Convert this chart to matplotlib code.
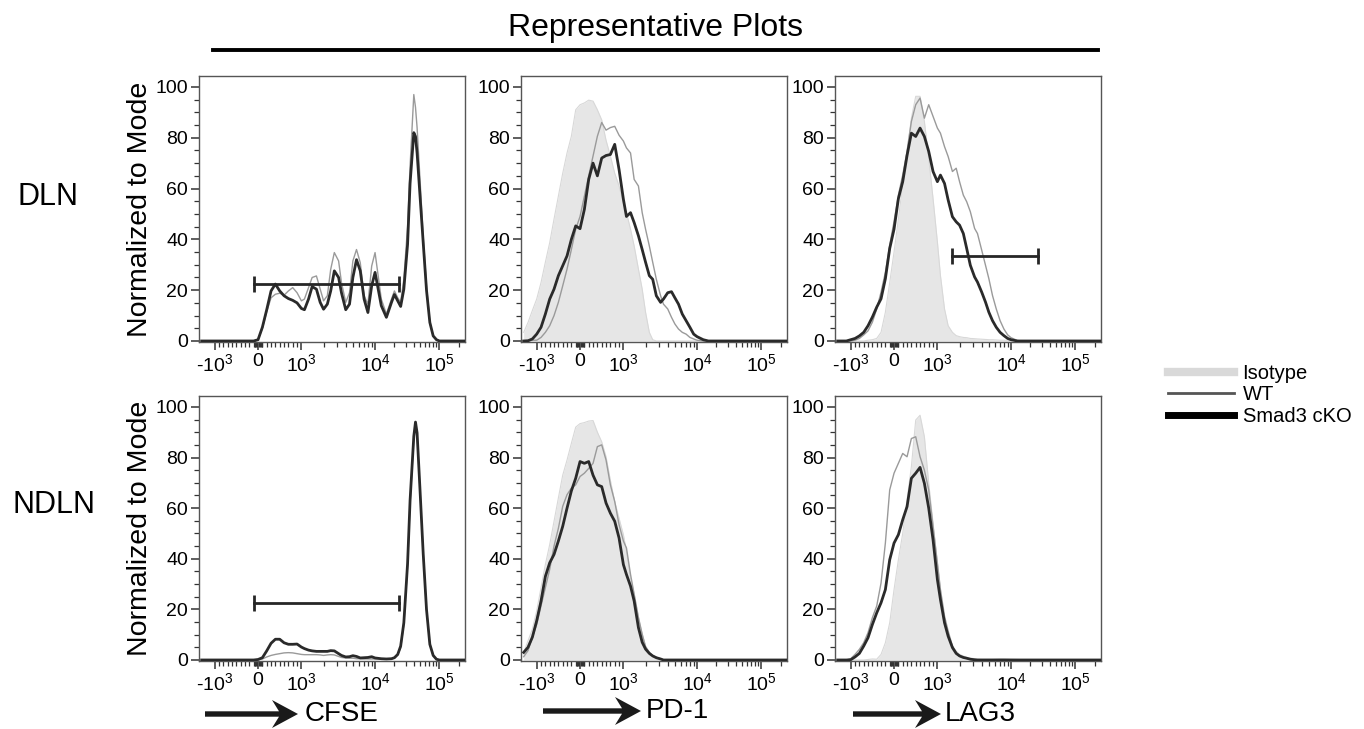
import numpy as np
import matplotlib
matplotlib.use('Agg')
import matplotlib.pyplot as plt
from matplotlib.lines import Line2D
from matplotlib.patches import Polygon

plt.rcParams['font.family'] = ['Liberation Sans', 'DejaVu Sans']
plt.rcParams['mathtext.fontset'] = 'custom'
plt.rcParams['mathtext.rm'] = 'Liberation Sans'
plt.rcParams['mathtext.it'] = 'Liberation Sans:italic'
plt.rcParams['mathtext.bf'] = 'Liberation Sans:bold'

# ---- data (fluorescence grid and % of mode) ----
fluor = [-1300, -1200, -1100, -1000, -900, -800, -700, -600, -500, -400, -300, -200, -100,
         0, 100, 200, 300, 400, 500, 600, 700, 800, 900, 1000,
         1100, 1250, 1400, 1600, 1800, 2000, 2250, 2500, 2800, 3200,
         3500, 4000, 4500, 5000, 5600, 6300, 7100, 8000, 9000, 10000,
         12500, 15000, 18000, 20000, 22500, 25000, 28000, 32000, 35000, 40000, 42500, 45000,
         50000, 56000, 63000, 71000, 80000, 90000, 100000, 125000, 160000, 200000, 250000]

cfse_dln_cko = [0, 0, 0, 0, 0, 0, 0, 0, 0, 0, 0, 0, 0,
                0.5, 5.4, 12.3, 19.7, 22.4, 19.7, 17.8, 16.7, 16, 15, 12.8,
                12.3, 16.5, 21.4, 20.4, 15.2, 12.5, 14.5, 19.7, 27.6, 25,
                19, 12.3, 14.5, 25, 32, 27.6, 16.5, 11.2, 21.7, 27,
                13.9, 9.3, 15.2, 18.3, 15.8, 13.6, 20.4, 38, 62, 82, 80.5, 74,
                57, 38.7, 20, 7.3, 2, 0.5, 0, 0, 0, 0, 0]
cfse_dln_wt = [0, 0, 0, 0, 0, 0, 0, 0, 0, 0, 0, 0, 0,
               0.5, 5, 11.5, 17, 18.4, 18.8, 18, 19.7, 21, 19, 15.8,
               16.5, 21, 25, 25.6, 20.4, 15.8, 17.8, 28.2, 34.8, 31.5,
               23, 15.2, 19, 31.5, 36, 30.8, 17.8, 14.5, 29.5, 34.8,
               16.5, 10.6, 16.5, 19.7, 17, 15.2, 24.3, 45, 68.8, 97, 92, 84,
               63.5, 41, 21.7, 7.3, 2, 0.5, 0, 0, 0, 0, 0]

cfse_ndln_cko = [0, 0, 0, 0, 0, 0, 0, 0, 0, 0, 0, 0, 0,
                 0.2, 0.9, 3.6, 6.6, 8.2, 8.2, 6.8, 6.2, 6.2, 6.3, 5.1,
                 4.5, 3.9, 3.6, 3.4, 3.4, 3.4, 3.4, 3.7, 3.6, 2.5,
                 1.8, 1.2, 1.3, 1.7, 1.4, 0.8, 0.9, 1.0, 1.3, 0.8,
                 0.5, 0.4, 0.5, 0.9, 2.2, 5.5, 14.7, 38, 63, 88.4, 94, 89.7,
                 67, 42, 20, 6.2, 1.8, 0.3, 0, 0, 0, 0, 0]
cfse_ndln_wt = [0, 0, 0, 0, 0, 0, 0, 0, 0, 0, 0, 0, 0,
                0.1, 0.4, 1.2, 1.8, 2.2, 2.5, 2.8, 2.9, 2.8, 2.5, 2.2,
                2.1, 2.1, 2.1, 2.1, 2.0, 1.8, 2.0, 2.1, 2.0, 1.4,
                1.0, 0.8, 0.7, 0.7, 0.5, 0.5, 0.4, 0.4, 0.4, 0.4,
                0.4, 0.3, 0.4, 0.8, 2.0, 4.8, 14, 37, 62, 87, 93.5, 89.5,
                67, 42, 20, 6.2, 1.8, 0.3, 0, 0, 0, 0, 0]

pd1_dln_iso = [3.4, 7.3, 12, 16.5, 23, 31, 38.7, 48, 57, 66, 74, 80.6, 91,
               93, 93.7, 94.8, 94.4, 91, 87, 79, 72.8, 66, 61, 54.4,
               50.5, 44, 37.4, 28.3, 20.4, 11.3, 3.4, 0.5, 0, 0,
               0, 0, 0, 0, 0, 0, 0, 0, 0, 0,
               0, 0, 0, 0, 0, 0, 0, 0, 0, 0, 0, 0,
               0, 0, 0, 0, 0, 0, 0, 0, 0, 0, 0]
pd1_dln_wt = [0, 0, 0.3, 0.3, 1.4, 3.4, 6, 10, 15.2, 21.7, 28.3, 36, 44,
              49, 57, 65, 72.8, 80.6, 86, 83, 84, 84.5, 81, 78.7,
              76, 74, 63.6, 61, 50.5, 44, 37.4, 31, 24.3, 17.8,
              14.5, 12.6, 9.3, 6.7, 4.7, 3.4, 2.7, 1.4, 0.8, 0.3,
              0, 0, 0, 0, 0, 0, 0, 0, 0, 0, 0, 0,
              0, 0, 0, 0, 0, 0, 0, 0, 0, 0, 0]
pd1_dln_cko = [0, 0.1, 0.8, 2.7, 5.4, 10.6, 16.5, 20.4, 25.7, 29.6, 33.5, 40, 45.3,
               44.2, 51.8, 63.6, 70, 65, 72, 73, 73.4, 77.4, 67.5, 55.8,
               49, 50.5, 46.6, 41.4, 36, 31, 25.7, 24.3, 17.8, 15.2,
               16.5, 19, 19.4, 17, 14.5, 10.6, 8, 5.4, 2.7, 1.7,
               0.5, 0, 0, 0, 0, 0, 0, 0, 0, 0, 0, 0,
               0, 0, 0, 0, 0, 0, 0, 0, 0, 0, 0]

lag3_dln_iso = [0, 0, 0, 0, 0, 0, 0, 0.3, 0.5, 1, 3.4, 11.3, 23,
                35, 48, 61.4, 74.6, 87.7, 96.3, 96.3, 86.4, 72, 56, 39,
                25.8, 12.6, 6, 3.4, 2.1, 1.7, 1.4, 1.3, 1, 0.9,
                0.8, 0.7, 0.6, 0.5, 0.5, 0.4, 0.3, 0.3, 0.3, 0.3,
                0.2, 0.1, 0, 0, 0, 0, 0, 0, 0, 0, 0, 0,
                0, 0, 0, 0, 0, 0, 0, 0, 0, 0, 0]
lag3_dln_wt = [0, 0, 0, 0, 0.3, 1, 2.4, 4, 7.4, 12.6, 19.2, 27, 37.7,
               47, 57.4, 65.3, 74.6, 86.4, 93, 95.6, 87.7, 93, 88.4, 83.8,
               81.8, 76.5, 72.6, 66.7, 68, 62.7, 57.4, 54.8, 50.9, 44.3,
               42.3, 35.7, 29.8, 24.5, 17.9, 12.6, 8, 4.7, 2.4, 1.3,
               0.2, 0, 0, 0, 0, 0, 0, 0, 0, 0, 0, 0,
               0, 0, 0, 0, 0, 0, 0, 0, 0, 0, 0]
lag3_dln_cko = [0, 0, 0, 0.5, 1, 2, 3.4, 6, 9.4, 13.3, 16.6, 24.5, 36.4,
                44, 56, 62.7, 73, 81.8, 80.5, 83.8, 80.5, 74.6, 66.7, 62.7,
                65.3, 62, 55.5, 48.9, 46.9, 45.6, 42.3, 36.4, 29.8, 25.2,
                23.2, 19.2, 15.3, 11.3, 8, 5.4, 3.4, 2.1, 1, 0.5,
                0, 0, 0, 0, 0, 0, 0, 0, 0, 0, 0, 0,
                0, 0, 0, 0, 0, 0, 0, 0, 0, 0, 0]

pd1_ndln_iso = [3, 7.6, 12.2, 19.4, 28.6, 37.7, 45.6, 54.8, 64, 73, 79, 85.6, 92,
                93.4, 93.8, 94.4, 94.6, 90, 86.2, 80.3, 71, 62.6, 56, 49.5,
                43, 32.5, 26, 16.8, 10.2, 5.6, 3, 1.7, 1, 0.4,
                0, 0, 0, 0, 0, 0, 0, 0, 0, 0,
                0, 0, 0, 0, 0, 0, 0, 0, 0, 0, 0, 0,
                0, 0, 0, 0, 0, 0, 0, 0, 0, 0, 0]
pd1_ndln_wt = [1.3, 3.7, 9, 14, 21.4, 28.6, 35.8, 45, 52, 60.7, 65.3, 67.9, 69.2,
               72.5, 73.8, 75.7, 77.7, 84.3, 85, 79, 69.2, 62.6, 53.5, 47,
               44.3, 33.8, 26, 16.8, 10.2, 5.2, 3, 1.7, 1, 0.4,
               0, 0, 0, 0, 0, 0, 0, 0, 0, 0,
               0, 0, 0, 0, 0, 0, 0, 0, 0, 0, 0, 0,
               0, 0, 0, 0, 0, 0, 0, 0, 0, 0, 0]
pd1_ndln_cko = [3, 5, 9, 15.5, 23.3, 33, 38.4, 41.7, 47, 52.8, 60, 66.8, 71.8,
                78.4, 77.7, 78.4, 73, 69.2, 68.5, 62, 58, 54.8, 48.2, 37.7,
                33.8, 29.2, 23.3, 12.8, 7, 4.3, 2.6, 1.6, 0.9, 0.4,
                0, 0, 0, 0, 0, 0, 0, 0, 0, 0,
                0, 0, 0, 0, 0, 0, 0, 0, 0, 0, 0, 0,
                0, 0, 0, 0, 0, 0, 0, 0, 0, 0, 0]

lag3_ndln_iso = [0, 0, 0, 0, 0, 0, 0, 0.2, 0.4, 0.3, 2.2, 6.8, 14.7,
                 27.8, 39.6, 50, 63.3, 76.4, 94.8, 96.7, 88.2, 69.8, 54, 38.3,
                 27.8, 16, 9.4, 5.5, 3.5, 2.2, 1.6, 1, 0.8, 0.5,
                 0.4, 0.3, 0.3, 0.3, 0.3, 0.4, 0.5, 0.5, 0.4, 0.3,
                 0.2, 0.1, 0, 0, 0, 0, 0, 0, 0, 0, 0, 0,
                 0, 0, 0, 0, 0, 0, 0, 0, 0, 0, 0]
lag3_ndln_wt = [0, 0, 0, 0.5, 2.2, 4.2, 6.8, 10.8, 16.7, 21.3, 30.4, 46.2, 67.2,
                73.8, 77.7, 81.6, 80.3, 87.5, 88.2, 80.3, 75, 67.2, 52.8, 38.3,
                27.8, 17.3, 11.4, 5.5, 2.9, 1.6, 1, 0.6, 0.3, 0.1,
                0, 0, 0, 0, 0, 0, 0, 0, 0, 0,
                0, 0, 0, 0, 0, 0, 0, 0, 0, 0, 0, 0,
                0, 0, 0, 0, 0, 0, 0, 0, 0, 0, 0]
lag3_ndln_cko = [0, 0, 0, 0.1, 1.2, 2.6, 5.5, 8.8, 14, 18.6, 22.6, 27.8, 39.6,
                 46.2, 49.5, 55.4, 60.6, 71.8, 73.8, 76.1, 69.8, 60, 47.5, 31.8,
                 23.9, 14.7, 9.4, 4.9, 2.6, 1.6, 1, 0.7, 0.3, 0.1,
                 0, 0, 0, 0, 0, 0, 0, 0, 0, 0,
                 0, 0, 0, 0, 0, 0, 0, 0, 0, 0, 0, 0,
                 0, 0, 0, 0, 0, 0, 0, 0, 0, 0, 0]

# gates: (low, high, level)
cfse_gate = (-100, 23800, 22.6)
lag3_gate = (1600, 26500, 33.5)

row_labels = ['DLN', 'NDLN']
markers = ['CFSE', 'PD-1', 'LAG3']
major_ticks = [-1000, 0, 1000, 10000, 100000]
major_labels = [r'-$\mathregular{10^3}$', '0', r'$\mathregular{10^3}$',
                r'$\mathregular{10^4}$', r'$\mathregular{10^5}$']
minor_ticks = ([-900, -800, -700, -600, -500, -400, -300, -200, -100,
                -80, -60, -40, -20, 20, 40, 60, 80,
                100, 200, 300, 400, 500, 600, 700, 800, 900,
                2000, 3000, 4000, 5000, 6000, 7000, 8000, 9000,
                20000, 30000, 40000, 50000, 60000, 70000, 80000, 90000, 200000])

ISO_C = '#e6e6e6'
WT_C = '#9a9a9a'
KO_C = '#2a2a2a'


# FlowJo-like biexponential display (axis fraction)
def biex_fwd(x):
    x = np.array(x, dtype=float)
    out = np.full_like(x, np.nan)
    a = x <= 1000
    out[a] = 0.222 + 0.163 * x[a] / 1000
    b = (x > 1000) & (x <= 1e4)
    out[b] = 0.385 + 0.277 * np.log10(x[b] / 1000)
    c = x > 1e4
    out[c] = 0.662 + 0.242 * np.log10(x[c] / 1e4)
    return out


def biex_inv(u):
    u = np.array(u, dtype=float)
    out = np.full_like(u, np.nan)
    a = u <= 0.385
    out[a] = (u[a] - 0.222) / 0.163 * 1000
    b = (u > 0.385) & (u <= 0.662)
    out[b] = 1000 * 10 ** ((u[b] - 0.385) / 0.277)
    c = u > 0.662
    out[c] = 1e4 * 10 ** ((u[c] - 0.662) / 0.242)
    return out


W, H = 1364, 729
fig = plt.figure(figsize=(W / 100, H / 100), dpi=100)


def fx(px):
    return px / W


def fy(py):
    return 1 - py / H


col_left = [199, 521, 835]
col_w = 266
row_top = [76, 396]
row_bot = [342, 661]

panels = [
    [(None, cfse_dln_wt, cfse_dln_cko, cfse_gate),
     (pd1_dln_iso, pd1_dln_wt, pd1_dln_cko, None),
     (lag3_dln_iso, lag3_dln_wt, lag3_dln_cko, lag3_gate)],
    [(None, cfse_ndln_wt, cfse_ndln_cko, cfse_gate),
     (pd1_ndln_iso, pd1_ndln_wt, pd1_ndln_cko, None),
     (lag3_ndln_iso, lag3_ndln_wt, lag3_ndln_cko, None)],
]

for r in range(2):
    for c in range(3):
        iso, wt, ko, gate = panels[r][c]
        ax = fig.add_axes([fx(col_left[c]), fy(row_bot[r]), fx(col_w),
                           (row_bot[r] - row_top[r]) / H])
        ax.set_xscale('function', functions=(biex_fwd, biex_inv))
        if iso is not None:
            ax.fill_between(fluor, iso, color=ISO_C, lw=0, zorder=1)
            ax.plot(fluor, iso, color='#d8d8d8', lw=0.8, zorder=1.5)
        ax.plot(fluor, wt, color=WT_C, lw=1.0, zorder=2)
        ax.plot(fluor, ko, color=KO_C, lw=2.0, zorder=3)
        if gate is not None:
            ax.plot([gate[0], gate[1]], [gate[2], gate[2]], color='#262626', lw=2.0,
                    marker='|', ms=11, mew=2.0, zorder=4)
        ax.set_xlim(-1362, 249800)
        ax.set_ylim(-0.4, 104.3)
        ax.set_xticks(major_ticks)
        ax.set_xticklabels(major_labels)
        ax.set_xticks(minor_ticks, minor=True)
        ax.set_yticks([0, 20, 40, 60, 80, 100])
        ax.set_yticks(np.arange(0, 101, 5), minor=True)
        ax.tick_params(which='major', direction='out', length=6, width=1.1,
                       color='#333333', labelsize=14, pad=2)
        ax.tick_params(which='minor', direction='out', length=3.5, width=0.9,
                       color='#333333')
        for sp in ax.spines.values():
            sp.set_color('#555555')
            sp.set_linewidth(1.0)
    fig.text(fx(140), fy((row_top[r] + row_bot[r]) / 2), 'Normalized to Mode',
             rotation=90, ha='center', va='center', fontsize=20.5)
    fig.text(fx(17 if r == 0 else 12), fy(197 if r == 0 else 505), row_labels[r],
             ha='left', va='center', fontsize=22)

# title and rule
fig.text(fx(655), fy(28), 'Representative Plots', ha='center', va='center', fontsize=23)
fig.add_artist(Line2D([fx(213), fx(1098)], [fy(50), fy(50)], color='black', lw=2.8))


# arrows with marker names
def draw_arrow(x0, x1, y):
    h, L, Wd, notch = 2.7, 26, 14, 7
    pts = [(x0, y - h), (x1 - L + notch, y - h), (x1 - L, y - Wd), (x1, y),
           (x1 - L, y + Wd), (x1 - L + notch, y + h), (x0, y + h)]
    fig.add_artist(Polygon([(fx(px), fy(py)) for px, py in pts], closed=True,
                           facecolor='#1a1a1a', edgecolor='none'))


arrow_spec = [(205, 298, 714, 305), (543, 641, 711, 646), (853, 941, 714, 945)]
for (x0, x1, y, tx), name in zip(arrow_spec, markers):
    draw_arrow(x0, x1, y)
    fig.text(fx(tx), fy(y), name, ha='left', va='center', fontsize=20)

# legend
handles = [Line2D([], [], color='#d9d9d9', lw=6),
           Line2D([], [], color='#555555', lw=2),
           Line2D([], [], color='#000000', lw=5)]
fig.legend(handles, ['Isotype', 'WT', 'Smad3 cKO'], loc='upper left',
           bbox_to_anchor=(fx(1168), fy(364)), frameon=False, fontsize=14.5,
           handlelength=3.3, handletextpad=0.4, labelspacing=0.12,
           borderpad=0, borderaxespad=0)

fig.savefig('out.png', dpi=100)
